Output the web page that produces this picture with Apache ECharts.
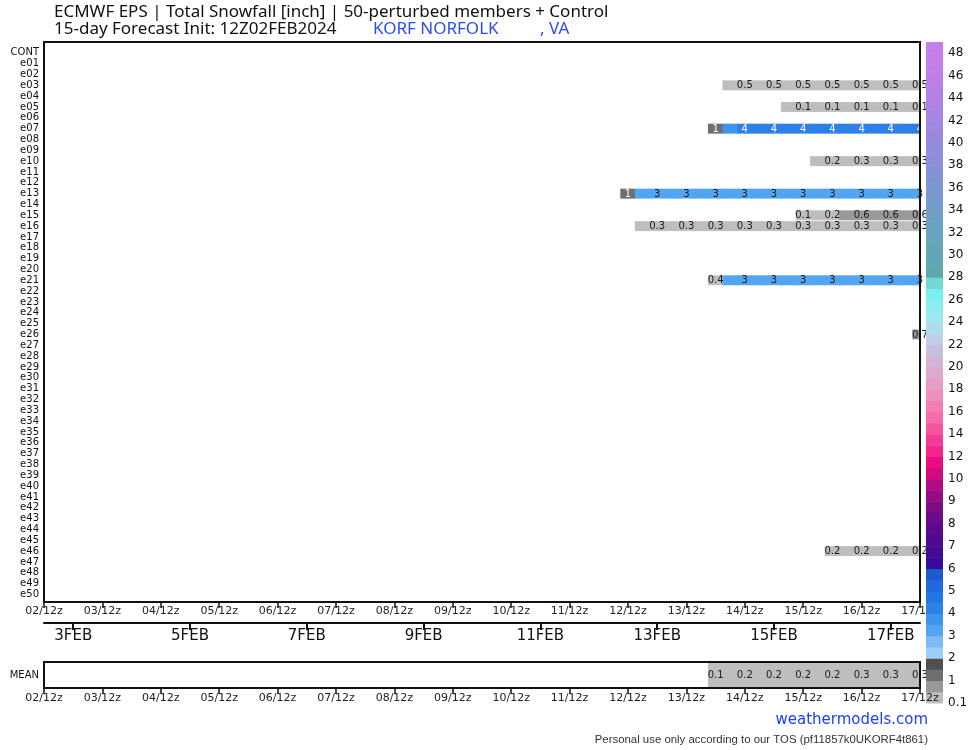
<!DOCTYPE html>
<html><head><meta charset="utf-8">
<script src="https://cdn.jsdelivr.net/npm/echarts@6/dist/echarts.min.js"></script>
<style>html,body{margin:0;padding:0;background:#fff}#c{width:974px;height:750px}</style>
</head><body><div id="c"></div>
<script>
// ---------- DATA ----------
const members = ['CONT','e01','e02','e03','e04','e05','e06','e07','e08','e09','e10',
  'e11','e12','e13','e14','e15','e16','e17','e18','e19','e20',
  'e21','e22','e23','e24','e25','e26','e27','e28','e29','e30',
  'e31','e32','e33','e34','e35','e36','e37','e38','e39','e40',
  'e41','e42','e43','e44','e45','e46','e47','e48','e49','e50'];
// x-axis: 6-hourly steps, step 0 = 02/12z, step 60 = 17/12z
const daySteps = [0,4,8,12,16,20,24,28,32,36,40,44,48,52,56,60];
const dayTicks = ['02/12z','03/12z','04/12z','05/12z','06/12z','07/12z','08/12z','09/12z',
  '10/12z','11/12z','12/12z','13/12z','14/12z','15/12z','16/12z','17/12z'];
const febSteps = [2,10,18,26,34,42,50,58];
const febTicks = ['3FEB','5FEB','7FEB','9FEB','11FEB','13FEB','15FEB','17FEB'];
// snowfall arrays start at step 40 (12/12z) and run to step 60 (17/12z)
const firstStep = 40;
const snowE03 = [null,null,null,null,null,null,null,0.4,0.47,0.47,0.47,0.47,0.47,0.47,0.47,0.47,0.47,0.47,0.47,0.47,0.47];
const snowE05 = [null,null,null,null,null,null,null,null,null,null,null,0.1,0.1,0.1,0.1,0.1,0.1,0.1,0.1,0.1,0.1];
const snowE07 = [null,null,null,null,null,null,1.2,3.7,4.2,4.2,4.2,4.2,4.2,4.2,4.2,4.2,4.2,4.2,4.2,4.2,4.2];
const snowE10 = [null,null,null,null,null,null,null,null,null,null,null,null,null,0.2,0.2,0.3,0.3,0.3,0.3,0.3,0.3];
const snowE13 = [1.1,3.2,3.2,3.2,3.2,3.2,3.2,3.2,3.2,3.2,3.2,3.2,3.2,3.2,3.2,3.2,3.2,3.2,3.2,3.2,3.2];
const snowE15 = [null,null,null,null,null,null,null,null,null,null,null,null,0.1,0.2,0.2,0.5,0.6,0.6,0.6,0.6,0.6];
const snowE16 = [null,0.3,0.3,0.3,0.3,0.3,0.3,0.3,0.3,0.3,0.3,0.3,0.3,0.3,0.3,0.3,0.3,0.3,0.3,0.3,0.3];
const snowE21 = [null,null,null,null,null,null,0.4,3.1,3.1,3.1,3.1,3.1,3.1,3.1,3.1,3.1,3.1,3.1,3.1,3.1,3.1];
const snowE26 = [null,null,null,null,null,null,null,null,null,null,null,null,null,null,null,null,null,null,null,null,0.7];
const snowE46 = [null,null,null,null,null,null,null,null,null,null,null,null,null,null,0.2,0.2,0.2,0.2,0.2,0.2,0.2];
const snowMean = [null,null,null,null,null,null,0.1,0.2,0.2,0.2,0.2,0.2,0.2,0.2,0.2,0.2,0.3,0.3,0.3,0.3,0.3];
const memberSeries = {3: snowE03, 5: snowE05, 7: snowE07, 10: snowE10, 13: snowE13,
  15: snowE15, 16: snowE16, 21: snowE21, 26: snowE26, 46: snowE46};
// colour scale boundaries (inch)
const levels = [0.1,0.5,1,1.5,2,2.5,3,3.5,4,4.5,5,5.5,6,6.5,7,7.5,8,8.5,9,9.5,10,
  11,12,13,14,15,16,17,18,19,20,21,22,23,24,25,26,27,28,29,30,
  31,32,33,34,35,36,37,38,39,40,41,42,43,44,45,46,47,48,49];
const levelColors = ['#bebebe','#999999','#6f6f6f','#505050','#9dd0f9','#7fbaf5','#52a5f0','#3f94ee',
  '#2c80e8','#2475e4','#1f69de','#1a5ccb','#380a9b','#420a95','#4e0a90','#5c0a8c',
  '#6c0a8a','#7e0a86','#960a84','#b20a80','#d40a7e','#ec0c82','#f2268c','#f43c96',
  '#f5559f','#f66ca9','#f47eb3','#ef8fbc','#e69cc4','#dcaacc','#d4b4d6','#c9bede',
  '#bcd0e6','#addcec','#9ee6f0','#8aeff2','#7ceeee','#72d8d2','#5fa9ad','#61a8b2',
  '#64a6b8','#67a4bd','#6ba1c2','#6f9ec7','#749bcb','#7998cf','#7f95d3','#8592d6',
  '#8b8fd9','#928cdc','#998ade','#a087e0','#a785e2','#ae83e4','#b481e6','#ba80e8',
  '#c07fe9','#c47eea','#c87ee9'];
const colorbarLabelIdx = [0,2,4,6,8,10,12,14,16,18,20,22,24,26,28,30,32,34,36,38,40,42,44,46,48,50,52,54,56,58];

// ---------- HELPERS ----------
function binIndex(v){ for (let k = levels.length - 2; k >= 0; k--) if (v >= levels[k]) return k; return -1; }
function labelText(v){ return v < 1 ? v.toFixed(1) : String(Math.round(v)); }
function labelColor(k){ return (k === 2 || k === 3 || k >= 8) ? '#ffffff' : '#1a1a1a'; }

const mainData = [];
Object.keys(memberSeries).forEach(r => {
  memberSeries[r].forEach((v, i) => { if (v != null && v >= 0.1) mainData.push([firstStep + i, +r, v]); });
});
const meanData = [];
snowMean.forEach((v, i) => { if (v != null && v >= 0.1) meanData.push([firstStep + i, 0.5, v]); });

function makeRender(gap){
  return function(params, api){
    const step = api.value(0), row = api.value(1), v = api.value(2);
    const c = api.coord([step, row]);
    const w = api.size([1, 0])[0];
    const h = api.size([0, 1])[1] - gap;
    const k = binIndex(v);
    const cs = params.coordSys;
    const rect = echarts.graphic.clipRectByRect(
      {x: c[0] - w / 2 - 0.4, y: c[1] - h / 2, width: w + 0.8, height: h},
      {x: cs.x, y: cs.y, width: cs.width, height: cs.height});
    const children = [];
    if (rect) children.push({type: 'rect', shape: rect, style: {fill: levelColors[k]}});
    if (step % 2 === 0) children.push({type: 'text', z2: 5, style: {
      text: labelText(v), x: c[0], y: c[1] + 0.5, align: 'center', verticalAlign: 'middle',
      fill: labelColor(k), font: '10px "DejaVu Sans"'}});
    return {type: 'group', children};
  };
}

const FONT = '"DejaVu Sans"';
const chart = echarts.init(document.getElementById('c'), null, {renderer: 'canvas'});
chart.setOption({
  animation: false,
  backgroundColor: '#fff',
  grid: [
    {left: 44, top: 42, width: 876, height: 560, show: true, borderColor: '#111', borderWidth: 2, z: 4},
    {left: 44, top: 622, width: 876, height: 1},
    {left: 44, top: 662, width: 876, height: 26, show: true, borderColor: '#111', borderWidth: 2, z: 4},
    {left: 926, top: 42, width: 17, height: 661}
  ],
  xAxis: [
    {gridIndex: 0, type: 'value', min: 0, max: 60, z: 3, position: 'bottom',
     axisLine: {show: false, onZero: false}, splitLine: {show: false},
     axisTick: {show: true, length: 6, lineStyle: {color: '#111', width: 1.5}, customValues: daySteps},
     axisLabel: {customValues: daySteps, margin: 4, fontSize: 11, fontFamily: FONT, color: '#222',
       formatter: v => dayTicks[daySteps.indexOf(v)]}},
    {gridIndex: 1, type: 'value', min: 0, max: 60, position: 'bottom',
     axisLine: {show: true, onZero: false, lineStyle: {color: '#111', width: 2}}, splitLine: {show: false},
     axisTick: {show: true, length: 7, lineStyle: {color: '#111', width: 2}, customValues: febSteps},
     axisLabel: {customValues: febSteps, margin: 6, fontSize: 15, fontFamily: FONT, color: '#111',
       formatter: v => febTicks[febSteps.indexOf(v)]}},
    {gridIndex: 2, type: 'value', min: 0, max: 60, z: 6, position: 'bottom',
     axisLine: {show: false, onZero: false}, splitLine: {show: false},
     axisTick: {show: true, length: 6, lineStyle: {color: '#111', width: 1.5}, customValues: daySteps},
     axisLabel: {customValues: daySteps, margin: 5, fontSize: 11, fontFamily: FONT, color: '#222',
       formatter: v => dayTicks[daySteps.indexOf(v)]}},
    {gridIndex: 3, type: 'value', min: 0, max: 1, show: false}
  ],
  yAxis: [
    {gridIndex: 0, type: 'value', min: -1, max: 50.7, inverse: true,
     axisLine: {show: false, onZero: false}, axisTick: {show: false}, splitLine: {show: false},
     axisLabel: {customValues: members.map((m, i) => i), margin: 5, fontSize: 10, fontFamily: FONT, color: '#111',
       formatter: v => members[v]}},
    {gridIndex: 1, type: 'value', min: 0, max: 1, show: false},
    {gridIndex: 2, type: 'value', min: 0, max: 1,
     axisLine: {show: false, onZero: false}, axisTick: {show: false}, splitLine: {show: false},
     axisLabel: {customValues: [0.5], margin: 5, fontSize: 10, fontFamily: FONT, color: '#111',
       formatter: () => 'MEAN'}},
    {gridIndex: 3, type: 'value', min: 0, max: 59, position: 'right', z: 5,
     axisLine: {show: false, onZero: false}, axisTick: {show: false}, splitLine: {show: false},
     axisLabel: {customValues: colorbarLabelIdx, margin: 5, fontSize: 12, fontFamily: FONT, color: '#111',
       formatter: v => String(levels[v])}}
  ],
  series: [
    {type: 'custom', xAxisIndex: 0, yAxisIndex: 0, z: 2, data: mainData, renderItem: makeRender(0.9)},
    {type: 'custom', xAxisIndex: 2, yAxisIndex: 2, z: 2, data: meanData, renderItem: makeRender(0)},
    {type: 'custom', xAxisIndex: 3, yAxisIndex: 3, z: 5,
     data: levelColors.map((c, k) => [k]),
     renderItem: function(params, api){
       const k = api.value(0);
       const p0 = api.coord([0, k]), p1 = api.coord([1, k + 1]);
       return {type: 'rect', shape: {x: p0[0], y: p1[1], width: p1[0] - p0[0], height: p0[1] - p1[1] + 0.5},
         style: {fill: levelColors[k]}};
     }}
  ],
  graphic: [
    {type: 'text', left: 54, top: 4, style: {text: 'ECMWF EPS | Total Snowfall [inch] | 50-perturbed members + Control',
      font: '17px "Noto Sans"', fill: '#111'}},
    {type: 'text', left: 54, top: 21, style: {text: '15-day Forecast Init: 12Z02FEB2024', font: '17px "Noto Sans"', fill: '#111'}},
    {type: 'text', left: 373, top: 21, style: {text: 'KORF NORFOLK', font: '17px "Noto Sans"', fill: '#2a4cff'}},
    {type: 'text', left: 540, top: 21, style: {text: ', VA', font: '17px "Noto Sans"', fill: '#2a4cff'}},
    {type: 'text', right: 46, top: 713, style: {text: 'weathermodels.com', font: '15px "DejaVu Sans"', fill: '#1f3cff'}},
    {type: 'text', right: 46, top: 734, style: {text: 'Personal use only according to our TOS (pf11857k0UKORF4t861)',
      font: '11.4px "Liberation Sans"', fill: '#333'}}
  ]
});
</script>
</body></html>
